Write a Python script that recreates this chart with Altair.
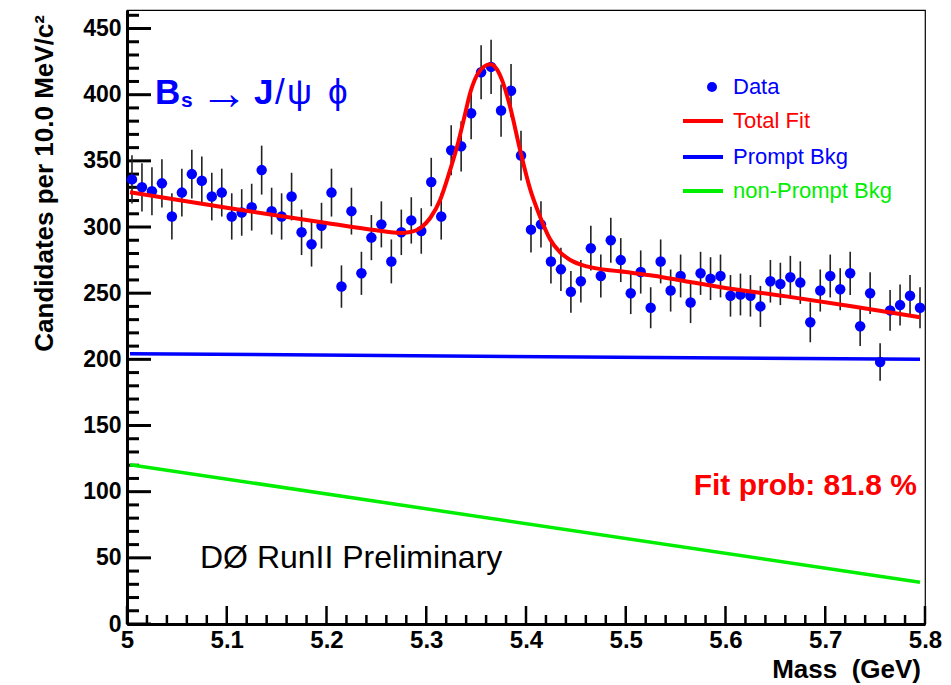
import altair as alt
import pandas as pd

# ---------------- data ----------------
bin_centers = [round(5.005 + 0.01 * i, 3) for i in range(80)]
counts = [336, 330, 327, 333, 308, 326, 340, 335, 323, 326,
          308, 311, 315, 343, 312, 308, 323, 296, 287, 301,
          326, 255, 312, 265, 292, 302, 274, 296, 305, 297,
          334, 308, 358, 361, 386, 417, 421, 388, 403, 354,
          298, 302, 274, 268, 251, 259, 284, 263, 290, 275,
          250, 266, 239, 274, 252, 263, 243, 265, 261, 263,
          248, 249, 248, 240, 259, 257, 262, 258, 228, 252,
          263, 253, 265, 225, 250, 198, 237, 241, 248, 239]
errors = [18.3, 18.2, 18.1, 18.2, 17.5, 18.1, 18.4, 18.3, 18.0, 18.1,
          17.5, 17.6, 17.7, 18.5, 17.7, 17.5, 18.0, 17.2, 16.9, 17.3,
          18.1, 16.0, 17.7, 16.3, 17.1, 17.4, 16.6, 17.2, 17.5, 17.2,
          18.3, 17.5, 18.9, 19.0, 19.6, 20.4, 20.5, 19.7, 20.1, 18.8,
          17.3, 17.4, 16.6, 16.4, 15.8, 16.1, 16.9, 16.2, 17.0, 16.6,
          15.8, 16.3, 15.5, 16.6, 15.9, 16.2, 15.6, 16.3, 16.2, 16.2,
          15.7, 15.8, 15.7, 15.5, 16.1, 16.0, 16.2, 16.1, 15.1, 15.9,
          16.2, 15.9, 16.3, 15.0, 15.8, 14.1, 15.4, 15.5, 15.7, 15.5]

fit_mass = [5.003, 5.1, 5.2, 5.25, 5.274, 5.284, 5.294, 5.304, 5.314, 5.324,
            5.331, 5.338, 5.344, 5.351, 5.358, 5.364, 5.371, 5.376, 5.384,
            5.394, 5.404, 5.414, 5.424, 5.434, 5.444, 5.461, 5.494, 5.528,
            5.561, 5.594, 5.661, 5.728, 5.795]
fit_vals = [326.3, 314.5, 303.0, 297.5, 295.5, 296.2, 299.2, 306.8, 320.6, 343.3,
            361.0, 382.4, 401.3, 415.0, 421.3, 423.0, 419.0, 411.0, 391.0,
            358.4, 329.0, 308.0, 291.0, 281.0, 275.3, 270.2, 266.5, 263.2,
            258.9, 254.7, 247.6, 240.0, 231.8]

prompt_mass = [5.003, 5.795]
prompt_vals = [204.3, 200.0]
nonprompt_mass = [5.003, 5.795]
nonprompt_vals = [120.4, 31.5]

x_major = [5.0, 5.1, 5.2, 5.3, 5.4, 5.5, 5.6, 5.7, 5.8]
x_minor = [round(5.0 + 0.02 * i, 2) for i in range(41) if i % 5]
y_major = [0, 50, 100, 150, 200, 250, 300, 350, 400, 450]
y_minor = [v for v in range(10, 461, 10) if v % 50]

# ---------------- styling ----------------
W, H = 798, 614
FONT = "Liberation Sans, Arial, Helvetica, sans-serif"
NARROW = "Liberation Sans Narrow, Arial Narrow, Liberation Sans, sans-serif"
BLUE = "#0000ff"
RED = "#ff0000"
GREEN = "#00ee00"

xs = alt.Scale(domain=[5.0, 5.8], nice=False, zero=False)
ys = alt.Scale(domain=[0, 464], nice=False, zero=False)

xaxis = alt.Axis(values=x_major, format="~g", title=None, grid=False,
                 ticks=False, tickSize=0, domainColor="black", domainWidth=3,
                 labelFont=NARROW, labelFontSize=24, labelFontWeight="bold",
                 labelColor="black", labelPadding=4, labelFlush=False,
                 labelOverlap=False)
yaxis = alt.Axis(values=y_major, format="d", title=None, grid=False,
                 ticks=False, tickSize=0, domainColor="black", domainWidth=3,
                 labelFont=FONT, labelFontSize=23, labelFontWeight="bold",
                 labelColor="black", labelPadding=6, labelOverlap=False)

def X(field):
    return alt.X(field, type="quantitative", scale=xs, axis=xaxis)

def Y(field):
    return alt.Y(field, type="quantitative", scale=ys, axis=yaxis)

data_df = pd.DataFrame({
    "m": bin_centers,
    "n": counts,
    "lo": [c - e for c, e in zip(counts, errors)],
    "hi": [c + e for c, e in zip(counts, errors)],
})
fit_df = pd.DataFrame({"m": fit_mass, "v": fit_vals})
prompt_df = pd.DataFrame({"m": prompt_mass, "v": prompt_vals})
nonprompt_df = pd.DataFrame({"m": nonprompt_mass, "v": nonprompt_vals})

layers = []

# inward ticks
layers.append(alt.Chart(pd.DataFrame({"v": y_major})).mark_rule(color="black", strokeWidth=3)
              .encode(y=Y("v"), x=alt.value(0), x2=alt.value(24)))
layers.append(alt.Chart(pd.DataFrame({"v": y_minor})).mark_rule(color="black", strokeWidth=3)
              .encode(y=Y("v"), x=alt.value(0), x2=alt.value(12)))
layers.append(alt.Chart(pd.DataFrame({"v": x_major})).mark_rule(color="black", strokeWidth=2.5)
              .encode(x=X("v"), y=alt.value(H), y2=alt.value(H - 18)))
layers.append(alt.Chart(pd.DataFrame({"v": x_minor})).mark_rule(color="black", strokeWidth=2.5)
              .encode(x=X("v"), y=alt.value(H), y2=alt.value(H - 9)))

# background components
layers.append(alt.Chart(nonprompt_df).mark_line(color=GREEN, strokeWidth=3.5)
              .encode(x=X("m"), y=Y("v")))
layers.append(alt.Chart(prompt_df).mark_line(color=BLUE, strokeWidth=3.5)
              .encode(x=X("m"), y=Y("v")))

# data with error bars
layers.append(alt.Chart(data_df).mark_rule(color="#222222", strokeWidth=1.6)
              .encode(x=X("m"), y=Y("lo"), y2="hi"))
layers.append(alt.Chart(data_df).mark_point(filled=True, color=BLUE, opacity=1, size=110)
              .encode(x=X("m"), y=Y("n")))

# total fit
layers.append(alt.Chart(fit_df).mark_line(color=RED, strokeWidth=4, interpolate="monotone")
              .encode(x=X("m"), y=Y("v")))

one = pd.DataFrame({"a": [0]})

def txt(text, x, y, size, color="black", weight="normal", align="left",
        baseline="alphabetic", font=FONT, angle=0):
    kw = dict(text=text, fontSize=size, color=color, fontWeight=weight,
              align=align, baseline=baseline, font=font)
    if angle:
        kw["angle"] = angle
    return alt.Chart(one).mark_text(**kw).encode(x=alt.value(x), y=alt.value(y))

# legend
layers.append(alt.Chart(one).mark_point(filled=True, color=BLUE, opacity=1, size=100)
              .encode(x=alt.value(585), y=alt.value(77)))
for (yy, col) in [(111, RED), (147, BLUE), (181, GREEN)]:
    layers.append(alt.Chart(one).mark_rule(color=col, strokeWidth=4)
                  .encode(x=alt.value(556), x2=alt.value(596), y=alt.value(yy)))
layers.append(txt("Data", 606, 77, 22, BLUE, baseline="middle"))
layers.append(txt("Total Fit", 606, 111, 22, RED, baseline="middle"))
layers.append(txt("Prompt Bkg", 606, 147, 22, BLUE, baseline="middle"))
layers.append(txt("non-Prompt Bkg", 606, 181, 22, GREEN, baseline="middle"))

# decay title
layers.append(txt("B", 28, 94, 35, BLUE, weight="bold"))
layers.append(txt("s", 54, 97, 21, BLUE, weight="bold"))
layers.append(txt("\u2192", 97, 85, 48, BLUE, align="center", baseline="middle"))
layers.append(txt("J", 127, 94, 35, BLUE, weight="bold"))
layers.append(txt("/", 148, 94, 35, BLUE))
layers.append(txt("\u03c8", 160, 94, 35, BLUE))
layers.append(txt("\u03d5", 201, 94, 35, BLUE))

# annotations
layers.append(txt("Fit prob: 81.8 %", 790, 485, 30, RED, weight="bold", align="right"))
layers.append(txt("D\u00d8 RunII Preliminary", 73, 558, 32, "black"))

# axis titles
layers.append(txt("Mass\u00a0\u00a0(GeV)", 794, 668, 26, "black", weight="bold", align="right", font=NARROW))
layers.append(txt("Candidates per 10.0 MeV/c\u00b2", -82, 5, 26, "black", weight="bold",
                  align="right", baseline="middle", angle=270))

chart = alt.layer(*layers).properties(
    width=W, height=H,
    autosize=alt.AutoSizeParams(type="none"),
    padding={"left": 119, "top": 2, "right": 18, "bottom": 59},
).configure_view(stroke="black", strokeWidth=1.2)

chart.save("out.html", embed_options={"renderer": "svg", "actions": False})
